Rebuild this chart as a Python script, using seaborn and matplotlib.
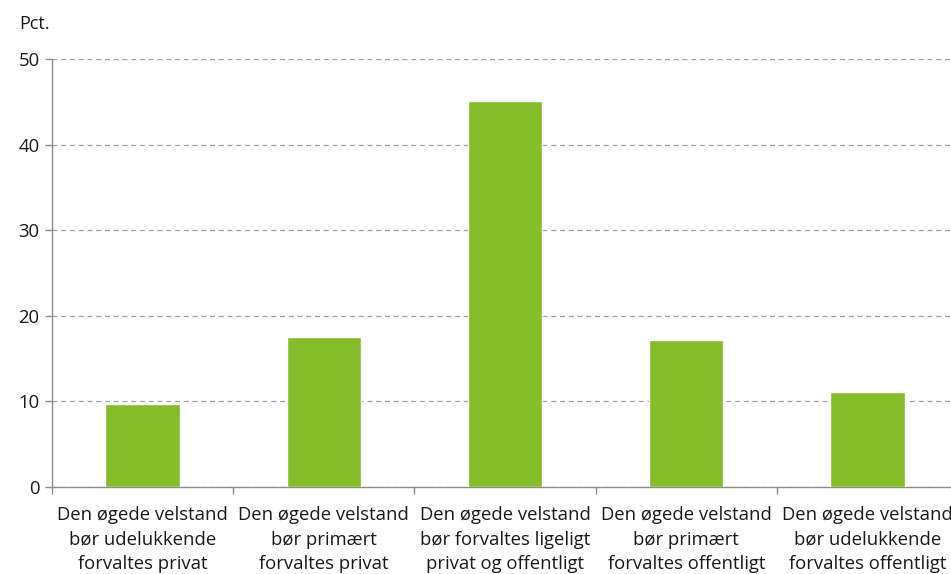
import numpy as np
import pandas as pd
import matplotlib
matplotlib.use("Agg")
import matplotlib.pyplot as plt
import seaborn as sns

categories = [
    "Den øgede velstand\nbør udelukkende\nforvaltes privat",
    "Den øgede velstand\nbør primært\nforvaltes privat",
    "Den øgede velstand\nbør forvaltes ligeligt\nprivat og offentligt",
    "Den øgede velstand\nbør primært\nforvaltes offentligt",
    "Den øgede velstand\nbør udelukkende\nforvaltes offentligt",
]
values = [9.7, 17.5, 45.1, 17.2, 11.1]
y_ticks = [0, 10, 20, 30, 40, 50]

sns.set_style("white")
plt.rcParams['font.family'] = ['Open Sans', 'DejaVu Sans']

df = pd.DataFrame({"kategori": categories, "pct": values})

fig = plt.figure(figsize=(9.51, 5.74), dpi=100)
ax = fig.add_axes([0.0547, 0.1516, 0.9527, 0.7455])

grey = "#8c8c8c"
txt = "#1a1a1a"
sns.barplot(data=df, x="kategori", y="pct", color="#85bc2a", saturation=1,
            width=0.41, ax=ax, zorder=3)

ax.set_ylim(0, 50)
ax.set_xlim(-0.5, 4.5)
ax.set_yticks(y_ticks)
ax.yaxis.grid(True, linestyle=(0, (4, 3)), color="#a0a0a0", linewidth=0.9, zorder=0)
ax.set_axisbelow(True)

for s in ["top", "right"]:
    ax.spines[s].set_visible(False)
for s in ["left", "bottom"]:
    ax.spines[s].set_color(grey)
    ax.spines[s].set_linewidth(1.0)

ax.set_xlabel("")
ax.set_ylabel("")
ax.tick_params(axis="x", which="major", bottom=True, length=0, labelsize=13.3, pad=14, labelcolor=txt)
ax.set_xticks(np.arange(-0.5, 4.6, 1.0), minor=True)
ax.tick_params(axis="x", which="minor", bottom=True, length=5, color=grey, width=1.0)
ax.tick_params(axis="y", left=True, length=5, color=grey, width=1.0, labelsize=13.3, pad=4, labelcolor=txt)
for lbl in ax.get_xticklabels():
    lbl.set_linespacing(1.45)

fig.text(0.020, 0.958, "Pct.", fontsize=13, color=txt, va="center", ha="left")

fig.savefig("out.png", dpi=100)
